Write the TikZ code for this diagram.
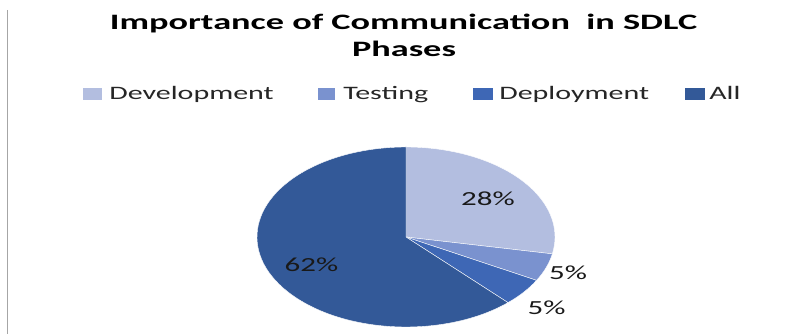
\documentclass[tikz,border=0pt]{standalone}
\usepackage{fontspec}
\setmainfont{Carlito}
\definecolor{devcol}{HTML}{B3BEE0}
\definecolor{testcol}{HTML}{7A92CF}
\definecolor{deploycol}{HTML}{3E67B5}
\definecolor{allcol}{HTML}{335998}
\begin{document}
\begin{tikzpicture}[x=1pt,y=1pt,
	titletext/.style={inner sep=0pt, anchor=base, xscale=1.65, font=\fontsize{22}{22}\selectfont\bfseries},
	legendtext/.style={inner sep=0pt, anchor=base west, xscale=1.58, font=\fontsize{19}{19}\selectfont, text=black!85},
	pcttext/.style={inner sep=0pt, xscale=1.55, font=\fontsize{20}{20}\selectfont, text=black!90}]
	\useasboundingbox (0,0) rectangle (793,334);
	
	% Pie parameters
	\def\piecenter{(406,97)}
	\def\pieRx{149} % horizontal radius
	\def\pieRy{90}  % vertical radius
	
	% Left frame line
	\draw[line width=1.5pt, gray!70] (7.5,324) -- (7.5,0);
	
	% Title
	\node[titletext] (title1) at (403.5,304) {Importance of Communication\ \ in SDLC};
	\node[titletext] (title2) at (404,277.3) {Phases};
	
	% Draw the slices
	\foreach \a/\b/\c in {90/-10.8/devcol, -10.8/-28.8/testcol, -28.8/-46.8/deploycol, -46.8/-270/allcol}
		\filldraw[fill=\c, draw=white, line width=0.4pt] \piecenter -- +({\pieRx*cos(\a)},{\pieRy*sin(\a)})
			arc[start angle=\a, end angle=\b, x radius=\pieRx, y radius=\pieRy] -- cycle;
	
	% Slice labels
	\node[pcttext] (pctdev) at (488,135) {28\%};
	\node[pcttext] (pcttest) at (568,61.5) {5\%};
	\node[pcttext] (pctdeploy) at (546.5,26) {5\%};
	\node[pcttext] (pctall) at (311.5,69) {62\%};
	
	% Legend
	\fill[devcol] (83,234) rectangle (102,246);
	\node[legendtext] (legdev) at (109,234) {Development};
	\fill[testcol] (318,234) rectangle (335,246);
	\node[legendtext] (legtest) at (343,234) {Testing};
	\fill[deploycol] (473,234) rectangle (493,246);
	\node[legendtext] (legdeploy) at (499,234) {Deployment};
	\fill[allcol] (685,234) rectangle (705,246);
	\node[legendtext] (legall) at (709,234) {All};
\end{tikzpicture}
\end{document}
